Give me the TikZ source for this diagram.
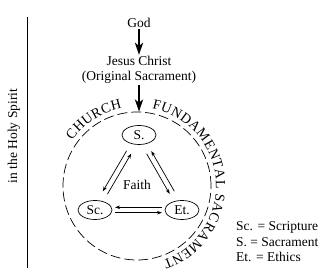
\documentclass[tikz,border=0pt]{standalone}
\usepackage{fontspec}
\setmainfont{Liberation Serif}
\usetikzlibrary{arrows.meta,calc,shapes.geometric,decorations.text}
\tikzset{
  txt/.style={
    font=\fontsize{13.5}{15.5}\selectfont,
    inner sep=1pt
  },
  part/.style={
    ellipse,
    draw=black,
    line width=0.7pt,
    minimum width=34pt,
    minimum height=19pt,
    inner sep=0pt,
    txt
  },
  ring/.style={
    circle,
    draw=black,
    line width=0.7pt,
    dash pattern=on 10pt off 4pt,
    minimum size=148pt,
    inner sep=0pt
  },
  bigarrow/.style={line width=2.6pt, -{Stealth[length=12pt,width=8pt,inset=3pt]}},
  flow/.style={
    line width=0.7pt,
    -{Stealth[length=5pt,width=3.5pt]},
    shorten <=20pt,
    shorten >=20pt,
    to path={($(\tikztostart)!2.7pt!-90:(\tikztotarget)$) -- ($(\tikztotarget)!2.7pt!90:(\tikztostart)$)}
  },
  arctext/.style={decorate, decoration={text along path, text align=fit to path}}
}

\begin{document}
\begin{tikzpicture}[x=1pt,y=1pt]
  \useasboundingbox (0,0) rectangle (330,278);
  \draw[line width=0.7pt] (27,10) -- (27,261);
  \node[txt, rotate=90] (spirit) at (14,142) {in the Holy Spirit};
  \node[txt] (god) at (139,255) {God};
  \node[txt, align=center] (jesus) at (139,208) {Jesus Christ\\(Original Sacrament)};
  \node[ring] (church) at (137,92) {};
  \node[part] (s) at (139,143) {S.};
  \node[part] (sc) at (95,68) {Sc.};
  \node[part] (et) at (182,68) {Et.};
  \node[txt] (faith) at (137,93) {Faith};
  \draw[bigarrow] (god) -- (jesus);
  \draw[bigarrow] (jesus.south) -- (jesus.south |- church.north);
  \foreach \a/\b in {s/sc,sc/s,s/et,et/s,sc/et,et/sc}
    \draw[flow] (\a) to (\b);
  \path[arctext, decoration={text={|\fontsize{14}{14}\selectfont|CHURCH}}]
    (church.center) ++(145:79) arc[start angle=145, end angle=101, radius=79];
  \path[arctext, decoration={text={|\fontsize{14}{14}\selectfont|FUNDAMENTAL SACRAMENT}}]
    (church.center) ++(79:79) arc[start angle=79, end angle=-71, radius=79];
  \node[txt, anchor=west, align=left] (key) at (235,36) {Sc. = Scripture\\S. = Sacrament\\Et. = Ethics};
\end{tikzpicture}
\end{document}
